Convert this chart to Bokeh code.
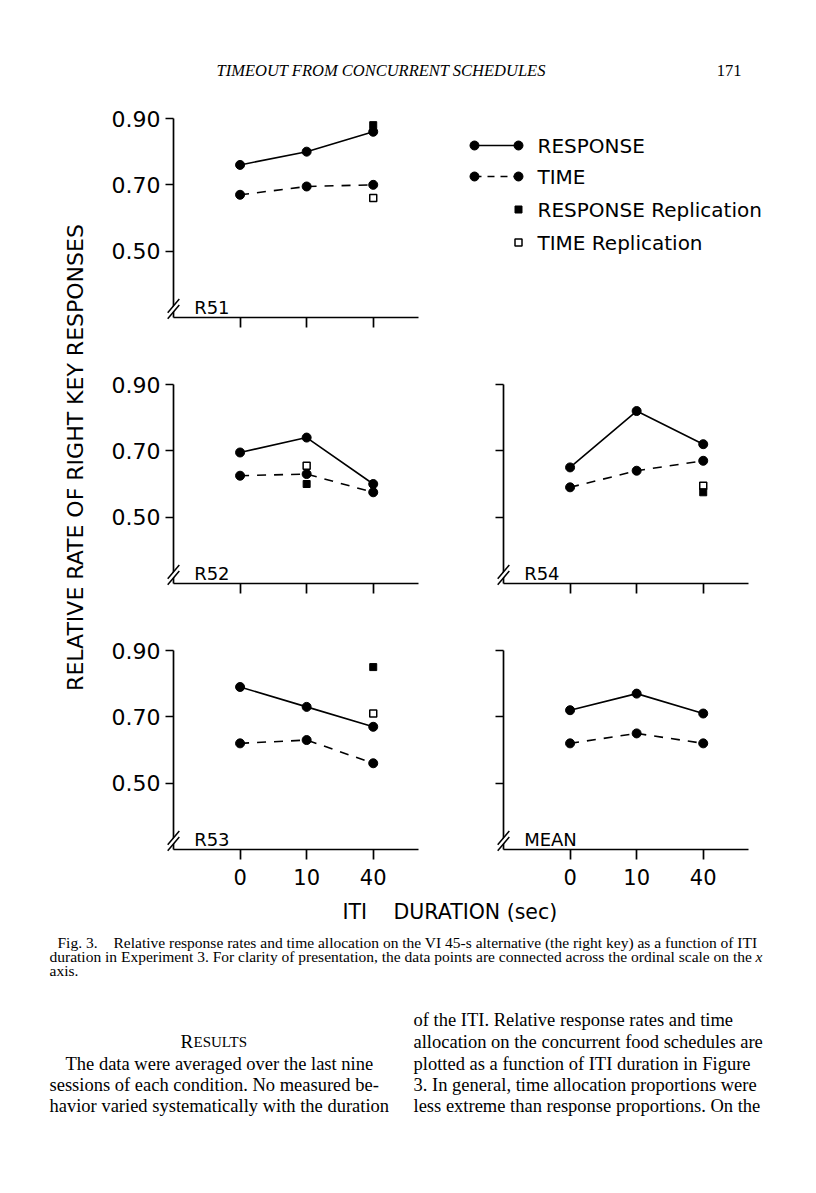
import numpy as np
from bokeh.plotting import figure
from bokeh.layouts import row, column
from bokeh.models import Range1d, FixedTicker, Label
from bokeh.core.properties import value
from bokeh.embed import file_html
from bokeh.resources import INLINE

nan = np.nan

# ---------------- data ----------------
iti_labels = ["0", "10", "40"]
iti_pos = [1, 2, 3]

y_ticks = [0.50, 0.70, 0.90]
y_tick_labels = ["0.50", "0.70", "0.90"]

r51_response = [0.76, 0.80, 0.86]
r51_time = [0.67, 0.695, 0.70]
r51_rep_response = [nan, nan, 0.88]
r51_rep_time = [nan, nan, 0.66]

r52_response = [0.695, 0.74, 0.60]
r52_time = [0.625, 0.63, 0.575]
r52_rep_response = [nan, 0.60, nan]
r52_rep_time = [nan, 0.655, nan]

r54_response = [0.65, 0.82, 0.72]
r54_time = [0.59, 0.64, 0.67]
r54_rep_response = [nan, nan, 0.575]
r54_rep_time = [nan, nan, 0.595]

r53_response = [0.79, 0.73, 0.67]
r53_time = [0.62, 0.63, 0.56]
r53_rep_response = [nan, nan, 0.85]
r53_rep_time = [nan, nan, 0.71]

mean_response = [0.72, 0.77, 0.71]
mean_time = [0.62, 0.65, 0.62]
mean_rep_response = [nan, nan, nan]
mean_rep_time = [nan, nan, nan]

legend_labels = ["RESPONSE", "TIME", "RESPONSE Replication", "TIME Replication"]

header_title = "TIMEOUT FROM CONCURRENT SCHEDULES"
page_number = "171"
y_title = "RELATIVE RATE OF RIGHT KEY RESPONSES"
x_title_a = "ITI"
x_title_b = "DURATION (sec)"

fig_tag = "Fig. 3."
caption_lines = [
    "Relative response rates and time allocation on the VI 45-s alternative (the right key) as a function of ITI",
    "duration in Experiment 3. For clarity of presentation, the data points are connected across the ordinal scale on the",
    "axis.",
]
left_col_lines = [
    "The data were averaged over the last nine",
    "sessions of each condition. No measured be-",
    "havior varied systematically with the duration",
]
right_col_lines = [
    "of the ITI. Relative response rates and time",
    "allocation on the concurrent food schedules are",
    "plotted as a function of ITI duration in Figure",
    "3. In general, time allocation proportions were",
    "less extreme than response proportions. On the",
]

SANS = "DejaVu Sans"
SERIF = "Liberation Serif"
FRAME_W = 245
FRAME_H = 199
TOP_B = 12
X0, X1 = 0.0, 3.68
Y0, Y1 = 0.30, 0.90
PX_X = (X1 - X0) / FRAME_W
PX_Y = (Y1 - Y0) / FRAME_H


def blank(w, h, top=0, bottom=0):
    p = figure(width=w, height=h, x_range=Range1d(0, w), y_range=Range1d(bottom, h - top),
               output_backend="svg", toolbar_location=None,
               x_axis_type=None, y_axis_type=None,
               min_border_left=0, min_border_right=0,
               min_border_top=top, min_border_bottom=bottom)
    p.grid.visible = False
    p.outline_line_color = None
    p.background_fill_color = "white"
    p.border_fill_color = "white"
    return p


def txt(p, x, y, s, font, size, align="left", style="normal", angle=0.0, baseline="middle"):
    p.text(x=[x], y=[y], text=[s], text_font=value(font), text_font_size=size,
           text_align=align, text_baseline=baseline, text_font_style=style,
           text_color="black", angle=angle)


def break_mark(p):
    # two short parallel strokes across the corner of the axes (axis break)
    dx, dy = 5.8, 6.9
    centers = [5.6, 11.6]
    # white gap between the strokes
    cm = sum(centers) / 2
    r = p.segment(x0=[X0 - dx * PX_X], y0=[Y0 + (cm - dy) * PX_Y],
                  x1=[X0 + dx * PX_X], y1=[Y0 + (cm + dy) * PX_Y],
                  line_color="white", line_width=3.0)
    r.level = "overlay"
    r = p.segment(x0=[X0 - dx * PX_X] * 2, y0=[Y0 + (c - dy) * PX_Y for c in centers],
                  x1=[X0 + dx * PX_X] * 2, y1=[Y0 + (c + dy) * PX_Y for c in centers],
                  line_color="black", line_width=1.5)
    r.level = "overlay"


def make_panel(name, resp, time, rep_resp, rep_time, left_b, right_b, bottom_b, show_y, show_x):
    p = figure(width=left_b + FRAME_W + right_b, height=TOP_B + FRAME_H + bottom_b,
               x_range=Range1d(X0, X1), y_range=Range1d(Y0, Y1),
               output_backend="svg", toolbar_location=None,
               min_border_left=left_b, min_border_right=right_b,
               min_border_top=TOP_B, min_border_bottom=bottom_b)
    p.grid.visible = False
    p.outline_line_color = None
    p.background_fill_color = "white"
    p.border_fill_color = "white"

    xa = p.xaxis[0]
    ya = p.yaxis[0]
    xa.ticker = FixedTicker(ticks=iti_pos)
    ya.ticker = FixedTicker(ticks=y_ticks)
    if show_x:
        xa.major_label_overrides = {k: v for k, v in zip(iti_pos, iti_labels)}
    else:
        xa.major_label_overrides = {k: "" for k in iti_pos}
    if show_y:
        ya.major_label_overrides = {k: v for k, v in zip(y_ticks, y_tick_labels)}
    else:
        ya.major_label_overrides = {k: "" for k in y_ticks}
    for ax in (xa, ya):
        ax.axis_line_width = 1.7
        ax.axis_line_color = "black"
        ax.major_tick_line_width = 1.7
        ax.major_tick_line_color = "black"
        ax.minor_tick_line_color = None
        ax.major_tick_in = 0
        ax.major_label_text_font = SANS
        ax.major_label_text_font_size = "21px"
        ax.major_label_text_color = "black"
    ya.major_label_text_font_size = "22px"
    xa.major_tick_out = 10
    ya.major_tick_out = 8
    ya.major_label_standoff = 5
    xa.major_label_standoff = 9

    p.line(iti_pos, resp, line_color="black", line_width=1.6)
    p.line(iti_pos, time, line_color="black", line_width=1.6, line_dash="9 8")
    p.scatter(iti_pos, resp, marker="circle", size=9, color="black")
    p.scatter(iti_pos, time, marker="circle", size=9, color="black")
    p.scatter(iti_pos, rep_time, marker="square", size=7, fill_color="white",
              line_color="black", line_width=1.5)
    p.scatter(iti_pos, rep_resp, marker="square", size=7, color="black")

    p.add_layout(Label(x=0.31, y=0.33, text=name, text_font=SANS, text_font_size="18px",
                       text_baseline="alphabetic", text_color="black"))
    break_mark(p)
    return p


LB, RB = 73, 10
LB2, RB2 = 75, 60

p51 = make_panel("R51", r51_response, r51_time, r51_rep_response, r51_rep_time, LB, RB, 55, True, False)
p52 = make_panel("R52", r52_response, r52_time, r52_rep_response, r52_rep_time, LB, RB, 55, True, False)
p54 = make_panel("R54", r54_response, r54_time, r54_rep_response, r54_rep_time, LB2, RB2, 55, False, False)
p53 = make_panel("R53", r53_response, r53_time, r53_rep_response, r53_rep_time, LB, RB, 47, True, True)
pmean = make_panel("MEAN", mean_response, mean_time, mean_rep_response, mean_rep_time, LB2, RB2, 47, False, True)

# legend cell (page x 428..808, y 106..372); y = px above cell bottom
LW, LH = LB2 + FRAME_W + RB2, TOP_B + FRAME_H + 55
leg = blank(LW, LH, top=TOP_B, bottom=55)
mx = [46, 90]
ly = [LH - 39, LH - 70, LH - 103, LH - 136]
leg.line(mx, [ly[0]] * 2, line_color="black", line_width=1.6)
leg.line(mx, [ly[1]] * 2, line_color="black", line_width=1.6, line_dash="7 6")
leg.scatter(mx, [ly[0]] * 2, marker="circle", size=9, color="black")
leg.scatter(mx, [ly[1]] * 2, marker="circle", size=9, color="black")
leg.scatter([mx[1]], [ly[2]], marker="square", size=7, color="black")
leg.scatter([mx[1]], [ly[3]], marker="square", size=7, fill_color="white", line_color="black", line_width=1.5)
for yy, s in zip(ly, legend_labels):
    txt(leg, 109, yy, s, SANS, "20px")

# y title strip (page x 0..100, y 106..896)
YH = (TOP_B + FRAME_H + 55) * 2 + (TOP_B + FRAME_H + 47)
ylab = blank(100, YH)
txt(ylab, 75, YH - 351, y_title, SANS, "22px", align="center", angle=np.pi / 2)

# header (page y 0..106)
TH = 106
top = blank(808, TH)
txt(top, 216, TH - 70, header_title, SERIF, "16.5px", style="italic")
txt(top, 741, TH - 70, page_number, SERIF, "16.5px", align="right")

# bottom: x title, caption, body text (page y 896..1185)
BH = 289
bot = blank(808, BH)
txt(bot, 342, BH - 15, x_title_a, SANS, "20.5px")
txt(bot, 393, BH - 15, x_title_b, SANS, "20.5px")
cap_y = [BH - 46, BH - 60, BH - 74]
CAP = "15.5px"
txt(bot, 57, cap_y[0], fig_tag, SERIF, CAP)
txt(bot, 113, cap_y[0], caption_lines[0], SERIF, CAP)
txt(bot, 49, cap_y[1], caption_lines[1], SERIF, CAP)
txt(bot, 762, cap_y[1], "x", SERIF, CAP, align="right", style="italic")
txt(bot, 49, cap_y[2], caption_lines[2], SERIF, CAP)

txt(bot, 180, BH - 145, "R", SERIF, "19px", baseline="alphabetic")
txt(bot, 193, BH - 145, "ESULTS", SERIF, "15px", baseline="alphabetic")
BODY = "18.5px"
left_y = [BH - 167, BH - 188, BH - 209]
left_x = [65, 49, 49]
for x0, y0, s in zip(left_x, left_y, left_col_lines):
    txt(bot, x0, y0, s, SERIF, BODY)
right_y = [BH - 123, BH - 145, BH - 167, BH - 188, BH - 209]
for y0, s in zip(right_y, right_col_lines):
    txt(bot, 413, y0, s, SERIF, BODY)

grid = column(row(p51, leg), row(p52, p54), row(p53, pmean))
root = column(top, row(ylab, grid), bot)

open("out.html", "w").write(file_html(root, INLINE, title="Fig. 3"))
